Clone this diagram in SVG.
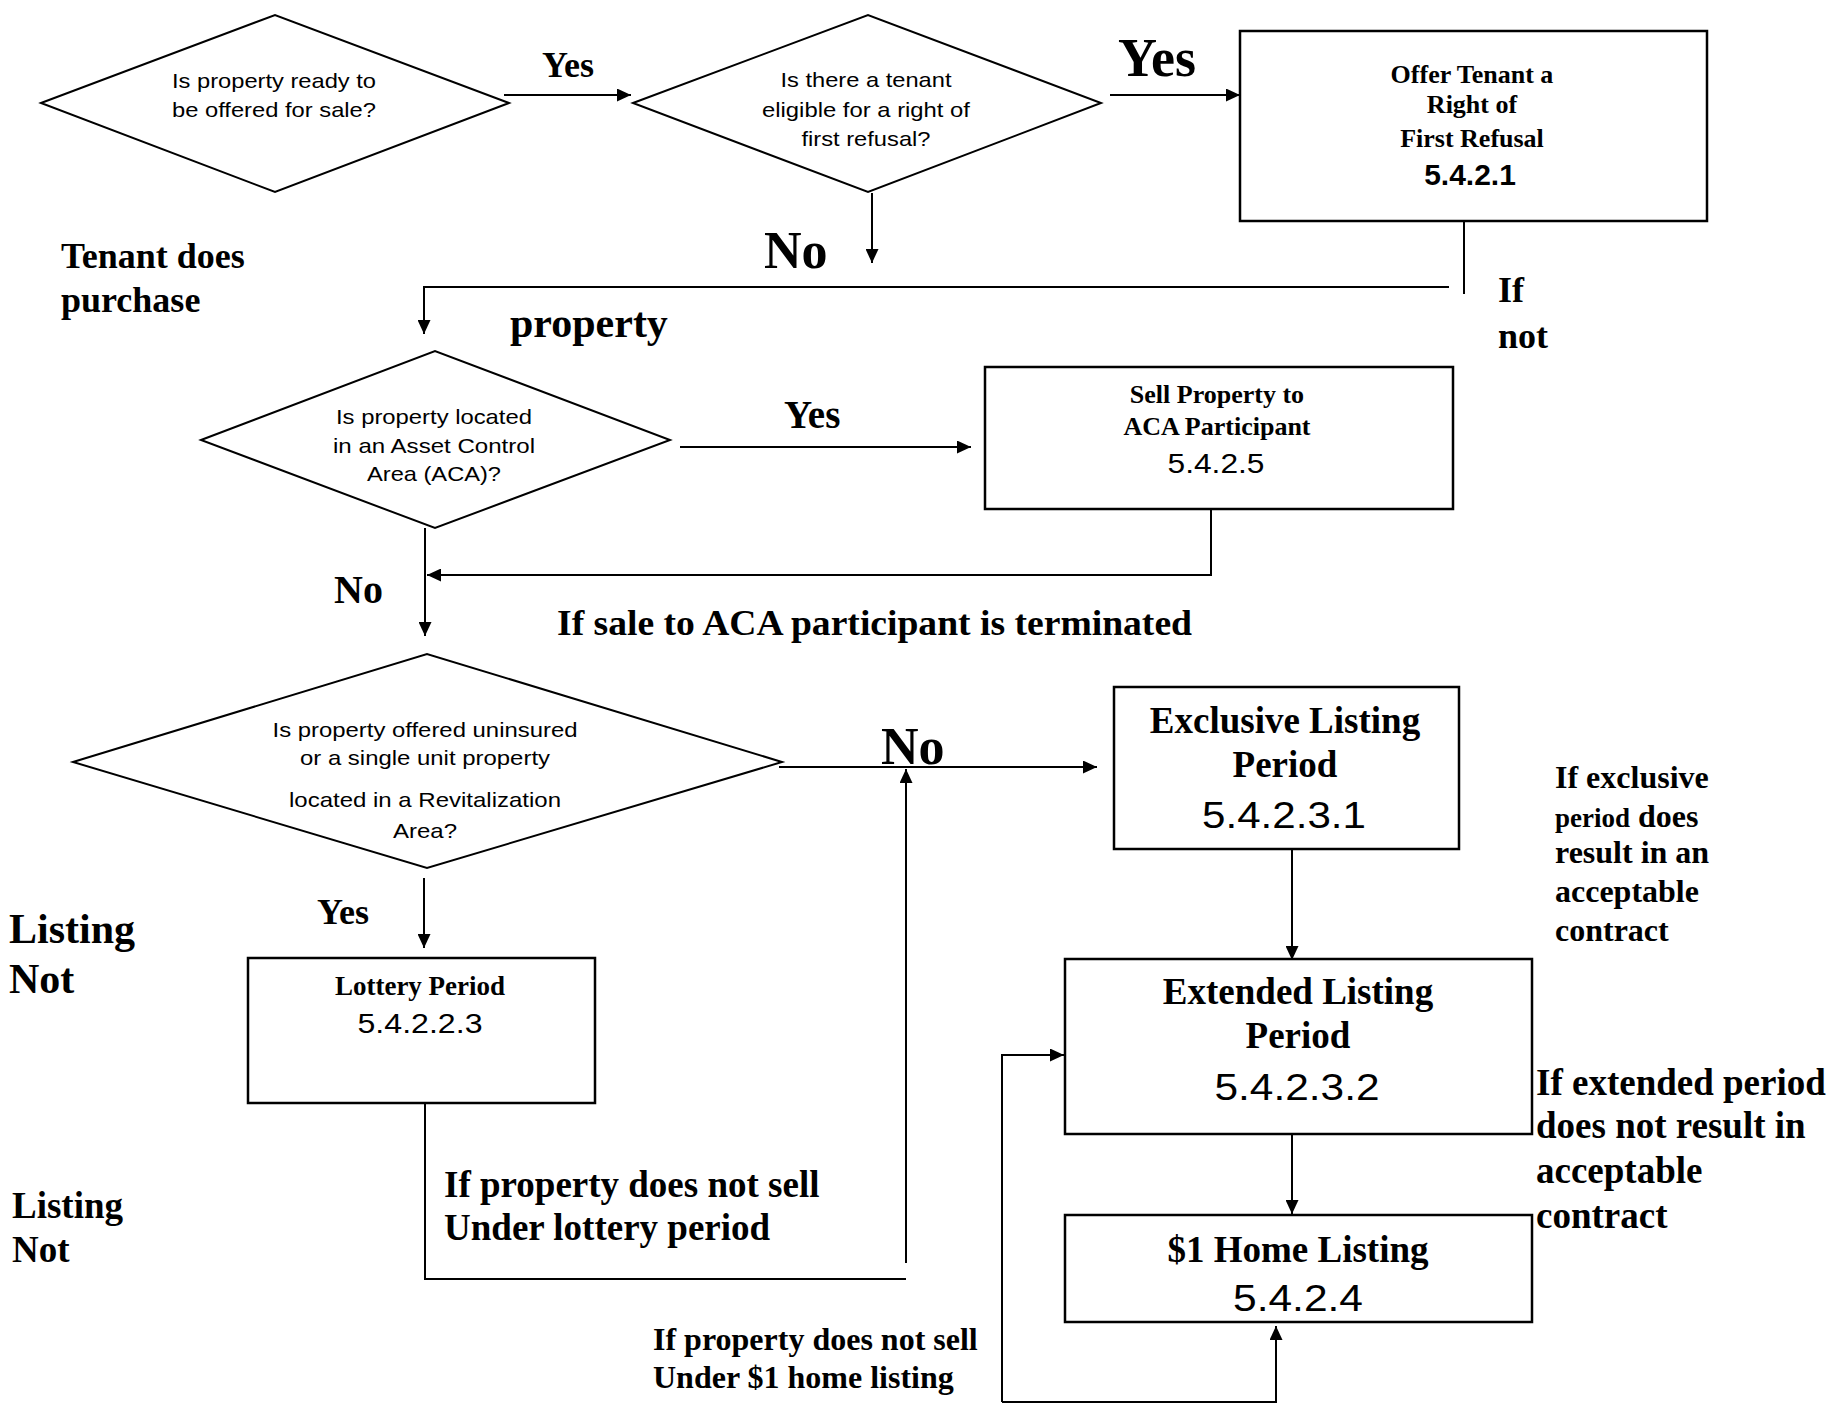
<svg xmlns="http://www.w3.org/2000/svg" width="1839" height="1405" viewBox="0 0 1839 1405">
<style>
.bg{fill:#fff}
.shape{fill:#fff;stroke:#000;stroke-width:2}
.box{fill:#fff;stroke:#000;stroke-width:2.5}
.ln{fill:none;stroke:#000;stroke-width:2}
.s{font-family:"Liberation Sans",Arial,sans-serif;fill:#000}
.sb{font-family:"Liberation Sans",Arial,sans-serif;font-weight:bold;fill:#000}
.b{font-family:"Liberation Serif","Times New Roman",serif;font-weight:bold;fill:#000}
.m{text-anchor:middle}
</style>
<defs>
<marker id="ah" markerWidth="14" markerHeight="13" refX="14" refY="6.5" orient="auto" markerUnits="userSpaceOnUse">
<path d="M0,0 L14,6.5 L0,13 z" fill="#000"/>
</marker>
</defs>
<rect class="bg" x="0" y="0" width="1839" height="1405"/>

<g id="connectors">
<path class="ln" d="M504,95 H631" marker-end="url(#ah)"/>
<path class="ln" d="M1110,95 H1240" marker-end="url(#ah)"/>
<path class="ln" d="M872,193 V263" marker-end="url(#ah)"/>
<path class="ln" d="M1464,221 V294"/>
<path class="ln" d="M1449,287 H424 V334" marker-end="url(#ah)"/>
<path class="ln" d="M680,447 H971" marker-end="url(#ah)"/>
<path class="ln" d="M1211,509 V575 H427" marker-end="url(#ah)"/>
<path class="ln" d="M425,528 V636" marker-end="url(#ah)"/>
<path class="ln" d="M779,767 H1097" marker-end="url(#ah)"/>
<path class="ln" d="M424,878 V948" marker-end="url(#ah)"/>
<path class="ln" d="M425,1103 V1279 H906"/>
<path class="ln" d="M906,1263 V769" marker-end="url(#ah)"/>
<path class="ln" d="M1292,849 V960" marker-end="url(#ah)"/>
<path class="ln" d="M1292,1134 V1214" marker-end="url(#ah)"/>
<path class="ln" d="M1002,1402 H1276 V1326" marker-end="url(#ah)"/>
<path class="ln" d="M1002,1402 V1055 H1064" marker-end="url(#ah)"/>
</g>

<g id="d-ready">
<polygon class="shape" points="41,103 275,15 509,103 275,192"/>
<text class="s m" x="274" y="88" font-size="21" textLength="204" lengthAdjust="spacingAndGlyphs">Is property ready to</text>
<text class="s m" x="274" y="117" font-size="21" textLength="204" lengthAdjust="spacingAndGlyphs">be offered for sale?</text>
</g>

<g id="d-tenant">
<polygon class="shape" points="633,103 868,15 1101,103 868,192"/>
<text class="s m" x="866" y="87" font-size="21" textLength="171" lengthAdjust="spacingAndGlyphs">Is there a tenant</text>
<text class="s m" x="866" y="117" font-size="21" textLength="208" lengthAdjust="spacingAndGlyphs">eligible for a right of</text>
<text class="s m" x="866" y="146" font-size="21" textLength="129" lengthAdjust="spacingAndGlyphs">first refusal?</text>
</g>

<g id="b-offer">
<rect class="box" x="1240" y="31" width="467" height="190"/>
<text class="b m" x="1472" y="83" font-size="26">Offer Tenant a</text>
<text class="b m" x="1472" y="113" font-size="26">Right of</text>
<text class="b m" x="1472" y="147" font-size="26">First Refusal</text>
<text class="sb m" x="1470" y="185" font-size="30">5.4.2.1</text>
</g>

<g id="d-aca">
<polygon class="shape" points="201,440 435,351 670,440 435,528"/>
<text class="s m" x="434" y="424" font-size="21" textLength="196" lengthAdjust="spacingAndGlyphs">Is property located</text>
<text class="s m" x="434" y="453" font-size="21" textLength="202" lengthAdjust="spacingAndGlyphs">in an Asset Control</text>
<text class="s m" x="434" y="481" font-size="21" textLength="134" lengthAdjust="spacingAndGlyphs">Area (ACA)?</text>
</g>

<g id="b-sell">
<rect class="box" x="985" y="367" width="468" height="142"/>
<text class="b m" x="1217" y="403" font-size="26">Sell Property to</text>
<text class="b m" x="1217" y="435" font-size="26">ACA Participant</text>
<text class="s m" x="1216" y="473" font-size="28" textLength="97" lengthAdjust="spacingAndGlyphs">5.4.2.5</text>
</g>

<g id="d-revital">
<polygon class="shape" points="73,762 427,654 782,762 427,868"/>
<text class="s m" x="425" y="737" font-size="21" textLength="305" lengthAdjust="spacingAndGlyphs">Is property offered uninsured</text>
<text class="s m" x="425" y="765" font-size="21" textLength="250" lengthAdjust="spacingAndGlyphs">or a single unit property</text>
<text class="s m" x="425" y="807" font-size="21" textLength="272" lengthAdjust="spacingAndGlyphs">located in a Revitalization</text>
<text class="s m" x="425" y="838" font-size="21" textLength="64" lengthAdjust="spacingAndGlyphs">Area?</text>
</g>

<g id="b-lottery">
<rect class="box" x="248" y="958" width="347" height="145"/>
<text class="b m" x="420" y="995" font-size="27">Lottery Period</text>
<text class="s m" x="420" y="1033" font-size="28" textLength="125" lengthAdjust="spacingAndGlyphs">5.4.2.2.3</text>
</g>

<g id="b-exclusive">
<rect class="box" x="1114" y="687" width="345" height="162"/>
<text class="b m" x="1285" y="733" font-size="37">Exclusive Listing</text>
<text class="b m" x="1285" y="777" font-size="37">Period</text>
<text class="s m" x="1284" y="828" font-size="36" textLength="164" lengthAdjust="spacingAndGlyphs">5.4.2.3.1</text>
</g>

<g id="b-extended">
<rect class="box" x="1065" y="959" width="467" height="175"/>
<text class="b m" x="1298" y="1004" font-size="37">Extended Listing</text>
<text class="b m" x="1298" y="1048" font-size="37">Period</text>
<text class="s m" x="1297" y="1100" font-size="36" textLength="165" lengthAdjust="spacingAndGlyphs">5.4.2.3.2</text>
</g>

<g id="b-home">
<rect class="box" x="1065" y="1215" width="467" height="107"/>
<text class="b m" x="1298" y="1262" font-size="37">$1 Home Listing</text>
<text class="s m" x="1298" y="1311" font-size="36" textLength="130" lengthAdjust="spacingAndGlyphs">5.4.2.4</text>
</g>

<g id="labels">
<text class="b" x="542" y="77" font-size="36">Yes</text>
<text class="b" x="1118" y="76" font-size="54">Yes</text>
<text class="b" x="764" y="268" font-size="52">No</text>
<text class="b" x="61" y="268" font-size="36">Tenant does</text>
<text class="b" x="61" y="312" font-size="36">purchase</text>
<text class="b" x="510" y="337" font-size="42">property</text>
<text class="b" x="1498" y="302" font-size="36">If</text>
<text class="b" x="1498" y="348" font-size="36">not</text>
<text class="b" x="784" y="428" font-size="39">Yes</text>
<text class="b" x="334" y="603" font-size="40">No</text>
<text class="b" x="557" y="635" font-size="36" textLength="635" lengthAdjust="spacingAndGlyphs">If sale to ACA participant is terminated</text>
<text class="b" x="881" y="764" font-size="52">No</text>
<text class="b" x="317" y="924" font-size="36">Yes</text>
<text class="b" x="9" y="943" font-size="42">Listing</text>
<text class="b" x="9" y="993" font-size="42">Not</text>
<text class="b" x="12" y="1218" font-size="37">Listing</text>
<text class="b" x="12" y="1262" font-size="37">Not</text>
<text class="b" x="444" y="1197" font-size="37">If property does not sell</text>
<text class="b" x="444" y="1240" font-size="37">Under lottery period</text>
<text class="b" x="653" y="1350" font-size="32">If property does not sell</text>
<text class="b" x="653" y="1388" font-size="32">Under $1 home listing</text>
<text class="b" x="1555" y="788" font-size="32">If exclusive</text>
<text class="b" x="1555" y="827" font-size="32"><tspan font-size="27">period</tspan> does</text>
<text class="b" x="1555" y="863" font-size="32">result in an</text>
<text class="b" x="1555" y="902" font-size="32">acceptable</text>
<text class="b" x="1555" y="941" font-size="32">contract</text>
<text class="b" x="1536" y="1095" font-size="37">If extended period</text>
<text class="b" x="1536" y="1138" font-size="37">does not result in</text>
<text class="b" x="1536" y="1183" font-size="37">acceptable</text>
<text class="b" x="1536" y="1228" font-size="37">contract</text>
</g>
</svg>
